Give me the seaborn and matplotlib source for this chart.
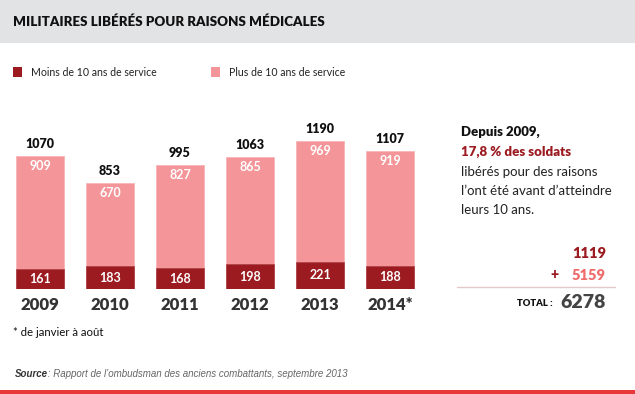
import matplotlib
matplotlib.use("Agg")
import matplotlib.pyplot as plt
import seaborn as sns
import pandas as pd
from matplotlib.patches import Rectangle
from matplotlib.lines import Line2D

years = ["2009", "2010", "2011", "2012", "2013", "2014*"]
moins_10 = [161, 183, 168, 198, 221, 188]
plus_10 = [909, 670, 827, 865, 969, 919]
totals = [1070, 853, 995, 1063, 1190, 1107]
sum_moins = 1119
sum_plus = 5159
sum_total = 6278

DARK = "#9b1b21"
LIGHT = "#f49699"
SALMON = "#f06b6b"

sns.set_theme(style="white")
plt.rcParams["font.family"] = ["Lato", "DejaVu Sans"]

W, H = 635, 394
fig = plt.figure(figsize=(W / 100, H / 100), dpi=100)

def px(x, y):
    return x / W, 1 - y / H

# header band
fig.patches.append(Rectangle((0, 1 - 43 / H), 1, 43 / H, transform=fig.transFigure,
                             facecolor="#e2e3e5", edgecolor="none", zorder=0))
fig.text(*px(13, 22), "MILITAIRES LIBÉRÉS POUR RAISONS MÉDICALES", fontsize=9.6,
         fontweight="heavy", color="#111111", va="center", ha="left")

# legend
fig.patches.append(Rectangle(px(13, 77), 9 / W, 10 / H, transform=fig.transFigure,
                             facecolor=DARK, edgecolor="none"))
fig.text(*px(31, 72), "Moins de 10 ans de service", fontsize=7.6, color="#222222",
         va="center", ha="left")
fig.patches.append(Rectangle(px(211, 77), 9 / W, 10 / H, transform=fig.transFigure,
                             facecolor=LIGHT, edgecolor="none"))
fig.text(*px(229, 72), "Plus de 10 ans de service", fontsize=7.6, color="#222222",
         va="center", ha="left")

# bar axes
scale = 0.1243  # px per unit
ymax = 1400
ax_h = ymax * scale
ax = fig.add_axes([5 / W, (H - 289) / H, 420 / W, ax_h / H])
df = pd.DataFrame({"year": years, "total": totals, "moins": moins_10, "plus": plus_10})
sns.barplot(data=df, x="year", y="total", color=LIGHT, saturation=1, width=0.686,
            ax=ax, edgecolor="#f7b5b7", linewidth=0.6)
sns.barplot(data=df, x="year", y="moins", color=DARK, saturation=1, width=0.686,
            ax=ax, edgecolor="#b0454a", linewidth=0.6)
ax.set_xlim(-0.5, 5.5)
ax.set_ylim(0, ymax)
ax.axis("off")

for i in range(len(years)):
    ax.text(i, totals[i] + 50, str(totals[i]), ha="center", va="bottom",
            fontsize=9, fontweight="heavy", color="#111111")
    ax.text(i, totals[i] - 80, str(plus_10[i]), ha="center", va="center",
            fontsize=9, fontweight="bold", color="white")
    ax.text(i, moins_10[i] / 2, str(moins_10[i]), ha="center", va="center",
            fontsize=9, fontweight="bold", color="white")
    ax.text(i, -125, years[i], ha="center", va="center", fontsize=12,
            fontweight="heavy", color="#333333")

# right panel
fig.text(*px(461, 132), "Depuis 2009,", fontsize=9.5, fontweight="heavy",
         color="#111111", va="center", ha="left")
fig.text(*px(461, 152), "17,8 % des soldats", fontsize=9.5, fontweight="heavy",
         color=DARK, va="center", ha="left")
for k, line in enumerate(["libérés pour des raisons", "l’ont été avant d’atteindre",
                          "leurs 10 ans."]):
    fig.text(*px(461, 172 + 19 * k), line, fontsize=9.5, color="#222222",
             va="center", ha="left")

fig.text(*px(606, 253), str(sum_moins), fontsize=10.5, fontweight="heavy",
         color=DARK, va="center", ha="right")
fig.text(*px(554, 275), "+", fontsize=10, fontweight="heavy",
         color=DARK, va="center", ha="center")
fig.text(*px(606, 275), str(sum_plus), fontsize=10.5, fontweight="heavy",
         color=SALMON, va="center", ha="right")
fig.lines.append(Line2D([457 / W, 615 / W], [1 - 287 / H, 1 - 287 / H],
                        transform=fig.transFigure, color="#e3c9ca", linewidth=1))
fig.text(*px(553, 304), "TOTAL :", fontsize=6.8, fontweight="heavy",
         color="#111111", va="center", ha="right")
fig.text(*px(606, 302), str(sum_total), fontsize=14, fontweight="heavy",
         color="#444444", va="center", ha="right")

# footnotes
fig.text(*px(13, 333), "* de janvier à août", fontsize=8.2, color="#111111",
         va="center", ha="left")
fig.text(*px(15, 374), "Source", fontsize=7, fontstyle="italic", fontweight="bold",
         family="Liberation Sans", color="#333333", va="center", ha="left")
fig.text(*px(45, 374), " : Rapport de l’ombudsman des anciens combattants, septembre 2013",
         fontsize=7, fontstyle="italic", family="Liberation Sans", color="#666666",
         va="center", ha="left")

fig.patches.append(Rectangle((0, 0), 1, 4 / H, transform=fig.transFigure,
                             facecolor="#e8383a", edgecolor="none"))

fig.savefig("out.png", dpi=100)
